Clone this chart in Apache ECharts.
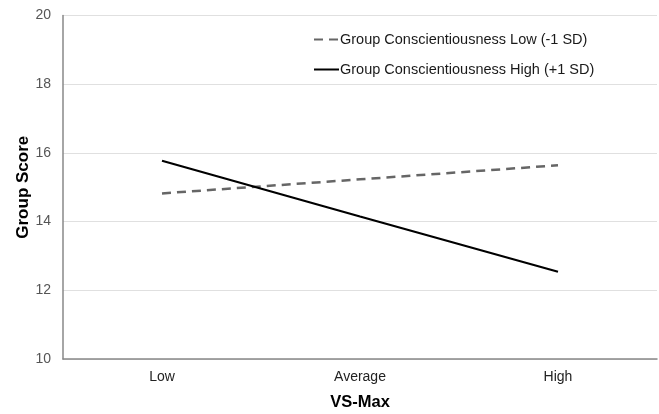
<!DOCTYPE html>
<html><head><meta charset="utf-8">
<script src="https://cdn.jsdelivr.net/npm/echarts@6/dist/echarts.min.js"></script>
<style>html,body{margin:0;padding:0;background:#fff}#c{width:659px;height:414px}</style>
</head><body><div id="c"></div>
<script>
const categories = ['Low', 'Average', 'High'];
const lowConsc = [14.82, 15.23, 15.64];
const highConsc = [15.77, 14.15, 12.54];
const yTicks = [10, 12, 14, 16, 18, 20];
const seriesNames = ['Group Conscientiousness Low (-1 SD)', 'Group Conscientiousness High (+1 SD)'];

const chart = echarts.init(document.getElementById('c'));
const font = 'Liberation Sans, Arial, sans-serif';
chart.setOption({
  animation: false,
  grid: { left: 63, right: 2, top: 15.5, bottom: 55, containLabel: false, outerBoundsMode: 'none' },
  legend: {
    orient: 'vertical', left: 308, top: 27, itemWidth: 25, itemHeight: 14, itemGap: 15,
    itemStyle: { opacity: 0 },
    textStyle: { fontFamily: font, fontSize: 14.5, color: '#1a1a1a', padding: [0,0,0,-4] },
    data: seriesNames
  },
  xAxis: {
    type: 'category', data: categories, boundaryGap: true,
    name: 'VS-Max', nameLocation: 'middle', nameGap: 35, nameMoveOverlap: false,
    nameTextStyle: { fontFamily: font, fontSize: 16.5, fontWeight: 'bold', color: '#000' },
    axisLine: { lineStyle: { color: '#888', width: 1.5 } },
    axisTick: { show: false },
    axisLabel: { fontFamily: font, fontSize: 14, color: '#222', margin: 11 }
  },
  yAxis: {
    type: 'value', min: yTicks[0], max: yTicks[yTicks.length-1], interval: 2,
    name: 'Group Score', nameLocation: 'middle', nameGap: 31, nameMoveOverlap: false,
    nameTextStyle: { fontFamily: font, fontSize: 17, fontWeight: 'bold', color: '#000' },
    axisLine: { show: true, lineStyle: { color: '#888', width: 1.5 } },
    axisTick: { show: false },
    axisLabel: { fontFamily: font, fontSize: 14, color: '#555', margin: 12 },
    splitLine: { lineStyle: { color: '#e0e0e0', width: 1 } }
  },
  series: [
    { name: seriesNames[0], type: 'line', data: lowConsc, symbol: 'none',
      lineStyle: { color: '#666', width: 2.5, type: [9, 6] }, itemStyle: { color: '#666' } },
    { name: seriesNames[1], type: 'line', data: highConsc, symbol: 'none',
      lineStyle: { color: '#000', width: 2.2 }, itemStyle: { color: '#000' } }
  ]
});
</script></body></html>
